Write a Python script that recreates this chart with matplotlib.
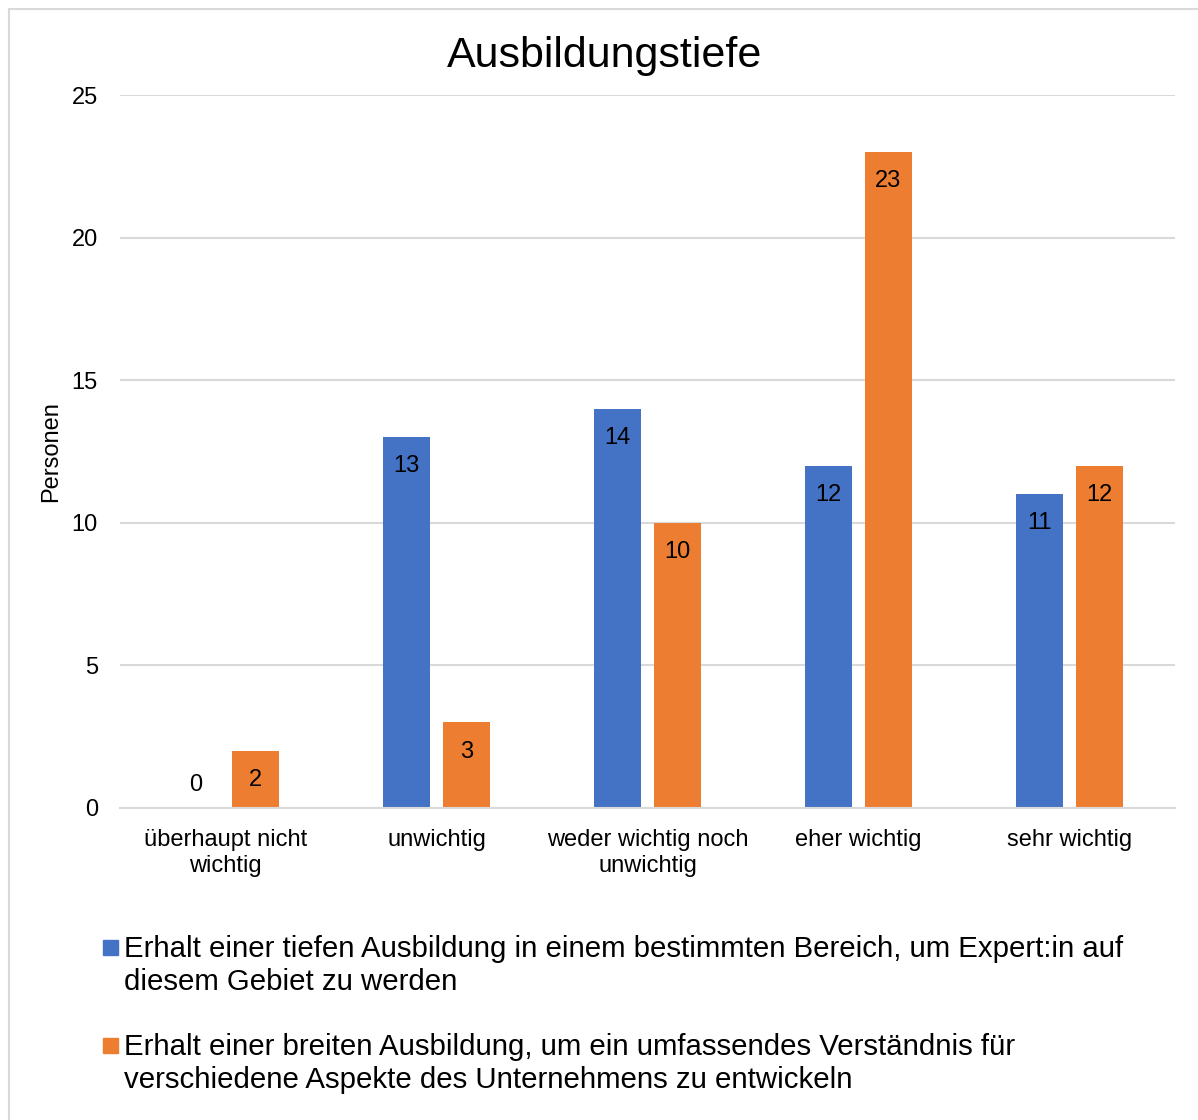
import numpy as np
import matplotlib.pyplot as plt
from matplotlib.patches import Rectangle

plt.rcParams["font.family"] = ["Liberation Sans", "DejaVu Sans"]

categories = ["überhaupt nicht\nwichtig", "unwichtig", "weder wichtig noch\nunwichtig",
              "eher wichtig", "sehr wichtig"]
tief = [0, 13, 14, 12, 11]
breit = [2, 3, 10, 23, 12]
series_labels = [
    "Erhalt einer tiefen Ausbildung in einem bestimmten Bereich, um Expert:in auf\ndiesem Gebiet zu werden",
    "Erhalt einer breiten Ausbildung, um ein umfassendes Verständnis für\nverschiedene Aspekte des Unternehmens zu entwickeln",
]
colors = ["#4472C4", "#ED7D31"]
grid_color = "#D9D9D9"

W, H = 1198, 1120
fig = plt.figure(figsize=(W / 100, H / 100), dpi=100)
ax = fig.add_axes([120 / W, 1 - 808 / H, 1055 / W, 713 / H])

# outer chart frame (only top and left edges are inside the image)
fig.patches.append(Rectangle((8.5 / W, -0.1), 1.2, 1 - 8.5 / H + 0.1,
                             transform=fig.transFigure, fill=False,
                             edgecolor=grid_color, linewidth=1.5))

x = np.arange(len(categories))
off = 0.142
width = 0.223
for vals, dx, c in [(tief, -off, colors[0]), (breit, off, colors[1])]:
    bars = ax.bar(x + dx, vals, width, color=c, zorder=3)
    for b, v in zip(bars, vals):
        top = b.get_height()
        dy = -21 if v > 0 else 16.5
        ax.annotate(str(v), (b.get_x() + b.get_width() / 2, top),
                    xytext=(0, dy), textcoords="offset points",
                    ha="center", va="center", fontsize=17, color="black")

ax.set_xlim(-0.5, 4.5)
ax.set_ylim(0, 25)
ax.set_yticks(range(0, 26, 5))
ax.set_xticks(x)
ax.set_xticklabels(categories, fontsize=17, linespacing=1.25)
ax.tick_params(axis="y", labelsize=17, length=0, pad=16)
ax.tick_params(axis="x", length=0, pad=15)
ax.grid(axis="y", color=grid_color, linewidth=1.5, zorder=0)
for s in ["top", "right", "left"]:
    ax.spines[s].set_visible(False)
ax.spines["bottom"].set_color(grid_color)
ax.spines["bottom"].set_linewidth(1.5)
ax.spines["bottom"].set_zorder(4)

ax.set_ylabel("Personen", fontsize=17)
ax.yaxis.set_label_coords(-58 / 1055, 0.5)

fig.text(605 / W, 1 - 56 / H, "Ausbildungstiefe", fontsize=31,
         ha="center", va="center")

# legend drawn as squares with wrapped labels
for i, (lab, c) in enumerate(zip(series_labels, colors)):
    y0 = 940 + i * 98
    fig.patches.append(Rectangle((103 / W, 1 - (y0 + 15) / H), 15 / W, 15 / H,
                                 transform=fig.transFigure, color=c))
    fig.text(124 / W, 1 - (y0 - 5) / H, lab, fontsize=21.2, ha="left",
             va="top", linespacing=1.25)

fig.savefig("out.png", dpi=100)
